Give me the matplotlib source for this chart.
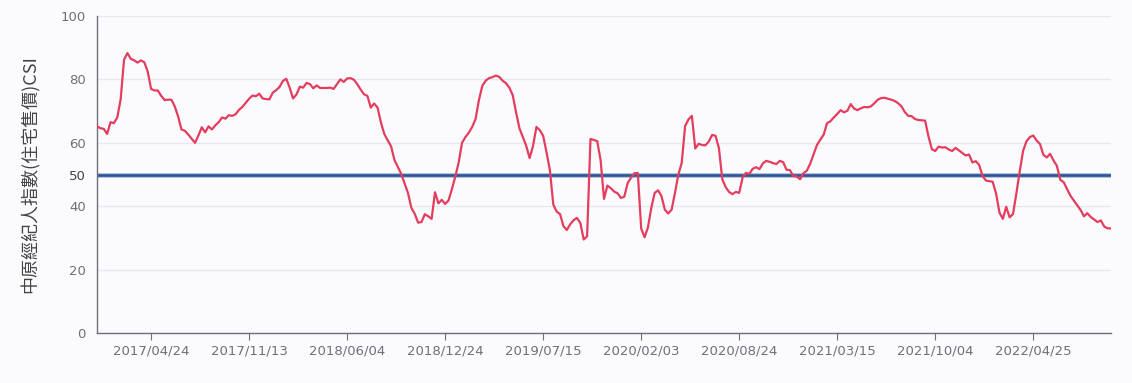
import numpy as np
import pandas as pd
import matplotlib
matplotlib.use("Agg")
import matplotlib.pyplot as plt
import matplotlib.dates as mdates

# weekly CSI readings, first week 2017/01/02
start_date = "2017-01-02"
csi_2017 = [65.2, 64.6, 64.4, 62.8, 66.5, 66.2, 68.0, 73.7, 86.2, 88.3,
            86.5, 86.0, 85.3, 86.0, 85.4, 82.5, 77.0, 76.5, 76.5, 74.8,
            73.5, 73.6, 73.6, 71.5, 68.3, 64.2, 63.8, 62.6, 61.3, 60.0,
            62.3, 64.9, 63.3, 65.2, 64.2, 65.5, 66.5, 68.0, 67.6, 68.7,
            68.5, 69.0, 70.4, 71.3, 72.6, 73.9, 74.9, 74.7, 75.5, 74.0,
            73.8, 73.7]
csi_2018 = [75.8, 76.6, 77.6, 79.5, 80.2, 77.4, 74.0, 75.2, 77.7, 77.4,
            78.9, 78.5, 77.2, 78.1, 77.3, 77.3, 77.3, 77.4, 77.0, 78.5,
            80.0, 79.2, 80.3, 80.4, 79.9, 78.5, 76.8, 75.3, 74.8, 71.1,
            72.4, 71.1, 66.4, 62.8, 60.8, 58.9, 54.6, 52.4, 50.2, 47.2,
            44.2, 39.5, 37.6, 34.8, 35.0, 37.5, 36.8, 36.0, 44.4, 40.9,
            42.0, 40.7]
csi_2019 = [41.8, 45.4, 49.3, 53.8, 60.0, 61.8, 63.2, 65.0, 67.5, 73.5,
            78.0, 79.6, 80.4, 80.7, 81.2, 80.8, 79.6, 78.8, 77.4, 75.0,
            69.5, 64.5, 61.8, 59.0, 55.2, 59.0, 65.0, 64.0, 62.2, 57.0,
            51.3, 40.5, 38.3, 37.5, 33.7, 32.5, 34.3, 35.6, 36.3, 34.7,
            29.5, 30.5, 61.2, 60.9, 60.5, 54.5, 42.3, 46.5, 45.7, 44.6,
            44.1, 42.6]
csi_2020 = [43.0, 47.3, 49.0, 50.4, 50.5, 33.0, 30.2, 33.3, 39.5, 44.2,
            45.0, 43.2, 38.9, 37.7, 38.9, 44.2, 50.0, 53.7, 65.3, 67.4,
            68.5, 58.2, 59.7, 59.3, 59.2, 60.4, 62.5, 62.2, 58.3, 48.5,
            46.0, 44.5, 43.8, 44.5, 44.2, 49.0, 50.5, 50.2, 51.8, 52.3,
            51.7, 53.5, 54.3, 54.0, 53.6, 53.3, 54.3, 53.9, 51.5, 51.4,
            49.5, 49.4]
csi_2021 = [48.5, 50.4, 51.2, 53.4, 56.4, 59.3, 61.0, 62.6, 66.2, 66.8,
            68.0, 69.1, 70.3, 69.6, 70.1, 72.2, 70.8, 70.3, 70.9, 71.3,
            71.2, 71.5, 72.5, 73.6, 74.1, 74.2, 73.9, 73.6, 73.2, 72.5,
            71.5, 69.7, 68.5, 68.4, 67.5, 67.2, 67.1, 67.0, 62.0, 58.0,
            57.4, 58.8, 58.5, 58.6, 57.9, 57.4, 58.4, 57.6, 56.8, 56.0,
            56.3, 53.8]
csi_2022 = [54.2, 53.0, 49.5, 48.1, 47.9, 47.7, 44.0, 38.0, 36.0, 39.8,
            36.5, 37.5, 44.0, 51.0, 57.5, 60.5, 61.8, 62.3, 60.7, 59.6,
            56.2, 55.4, 56.5, 54.4, 52.7, 48.3, 47.6, 45.4, 43.3, 41.8,
            40.3, 38.8, 36.8, 37.8, 36.6, 35.8, 35.0, 35.5, 33.6, 33.0,
            33.0]

csi = csi_2017 + csi_2018 + csi_2019 + csi_2020 + csi_2021 + csi_2022
dates = pd.date_range(start_date, periods=len(csi), freq="7D")

tick_dates = ["2017-04-24", "2017-11-13", "2018-06-04", "2018-12-24",
              "2019-07-15", "2020-02-03", "2020-08-24", "2021-03-15",
              "2021-10-04", "2022-04-25"]
y_ticks = [0, 20, 40, 50, 60, 80, 100]
threshold = 50
y_label = "中原經紀人指數(住宅售價)CSI"

bg = "#fbfbfe"
grey = "#6e7079"

fig = plt.figure(figsize=(11.32, 3.83), dpi=100, facecolor=bg)
ax = fig.add_axes([97 / 1132, 50 / 383, 1014 / 1132, 317 / 383])
ax.set_facecolor(bg)

ax.plot(dates, csi, color="#e43d5e", lw=1.6, zorder=3)
ax.axhline(threshold, color="#a9bbdc", lw=3.4, zorder=2)
ax.axhline(threshold, color="#2f5596", lw=1.9, zorder=2)

ax.set_xlim(dates[0], dates[-1])
ax.set_ylim(0, 100)
ax.set_yticks(y_ticks)
ax.set_xticks(pd.to_datetime(tick_dates))
ax.xaxis.set_major_formatter(mdates.DateFormatter("%Y/%m/%d"))

ax.grid(axis="y", color="#e6e9f2", lw=1, zorder=0)
for s in ["top", "right"]:
    ax.spines[s].set_visible(False)
for s in ["left", "bottom"]:
    ax.spines[s].set_color(grey)
    ax.spines[s].set_linewidth(1)

ax.tick_params(axis="y", length=0, pad=8, labelsize=9.5, labelcolor=grey)
ax.tick_params(axis="x", length=5, color=grey, pad=3, labelsize=9.5,
               labelcolor=grey)
for lab in ax.get_yticklabels():
    if lab.get_text() == "50":
        lab.set_color("#444444")

ax.set_ylabel(y_label, family=["Noto Sans CJK TC", "DejaVu Sans"],
              fontsize=13, color="#444444", labelpad=15)

fig.savefig("out.png", dpi=100, facecolor=bg)
